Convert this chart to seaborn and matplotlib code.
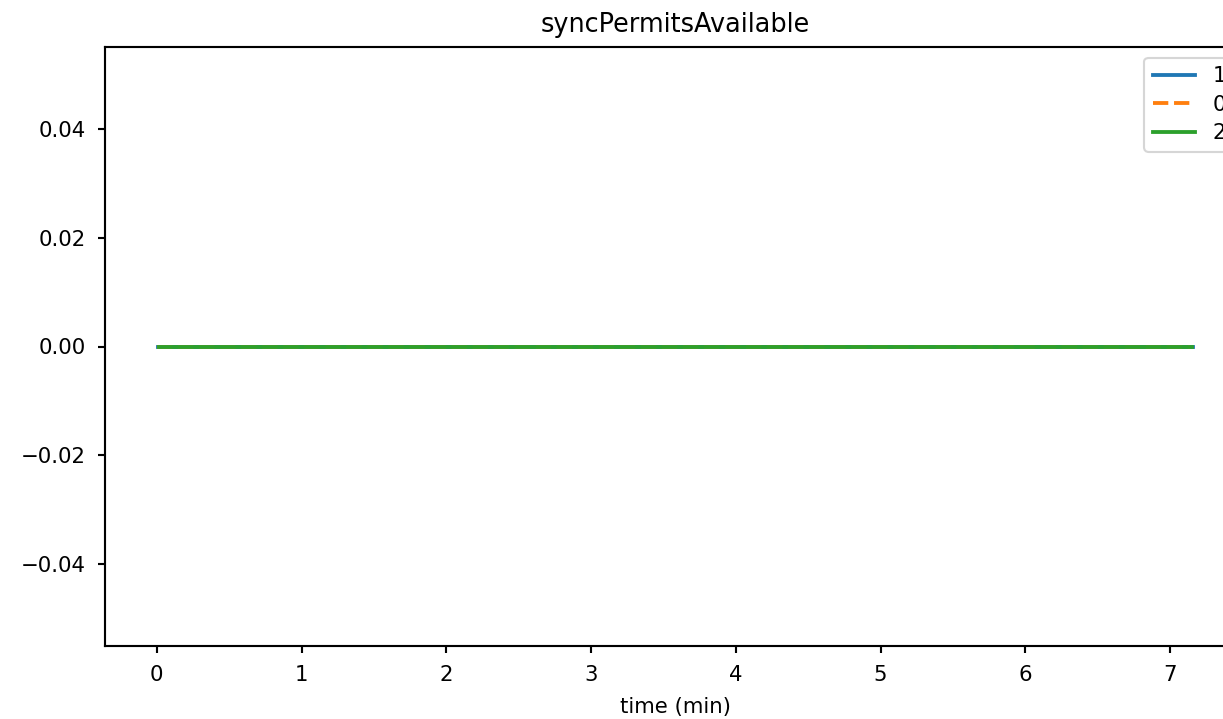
import pandas as pd
import matplotlib
matplotlib.use("Agg")
import matplotlib.pyplot as plt
import seaborn as sns

# readings of syncPermitsAvailable per node (all zero)
time_1 = [0.01, 0.5, 1.0, 1.5, 2.0, 2.5, 3.0, 3.5, 4.0, 4.5, 5.0, 5.5, 6.0, 6.5, 7.0, 7.16]
vals_1 = [0, 0, 0, 0, 0, 0, 0, 0, 0, 0, 0, 0, 0, 0, 0, 0]
time_0 = [0.0, 0.5, 1.0, 1.5, 2.0, 2.5, 3.0, 3.5, 4.0, 4.5, 5.0, 5.5, 6.0, 6.5, 7.0, 7.14]
vals_0 = [0, 0, 0, 0, 0, 0, 0, 0, 0, 0, 0, 0, 0, 0, 0, 0]
time_2 = [0.015, 0.5, 1.0, 1.5, 2.0, 2.5, 3.0, 3.5, 4.0, 4.5, 5.0, 5.5, 6.0, 6.5, 7.0, 7.15]
vals_2 = [0, 0, 0, 0, 0, 0, 0, 0, 0, 0, 0, 0, 0, 0, 0, 0]
node_order = ["1", "0", "2"]

df = pd.concat([
    pd.DataFrame({"time": time_1, "value": vals_1, "node": "1"}),
    pd.DataFrame({"time": time_0, "value": vals_0, "node": "0"}),
    pd.DataFrame({"time": time_2, "value": vals_2, "node": "2"}),
], ignore_index=True)

plt.rcParams["axes.linewidth"] = 1.0
plt.rcParams["xtick.major.width"] = 1.0
plt.rcParams["ytick.major.width"] = 1.0
plt.rcParams["xtick.major.pad"] = 5.5
plt.rcParams["ytick.major.pad"] = 5.5

W, H, DPI = 1223, 719, 153
fig = plt.figure(figsize=(W / DPI, H / DPI), dpi=DPI)
# axes runs past the right edge like the cropped original
ax = fig.add_axes([105 / W, (H - 646) / H, (1245 - 105) / W, (646 - 47) / H])

sns.lineplot(data=df, x="time", y="value", hue="node", style="node",
             hue_order=node_order, style_order=node_order,
             dashes={"1": "", "0": (4, 1.5), "2": ""}, linewidth=1.8, ax=ax)

sns.move_legend(ax, "upper right", title=None, labelspacing=0.4)
for line in ax.get_legend().get_lines():
    line.set_linewidth(1.8)
ax.set_title("syncPermitsAvailable", pad=7)
ax.set_xlabel("time (min)", labelpad=5.5)
ax.set_ylabel("")

fig.savefig("out.png", dpi=DPI)
